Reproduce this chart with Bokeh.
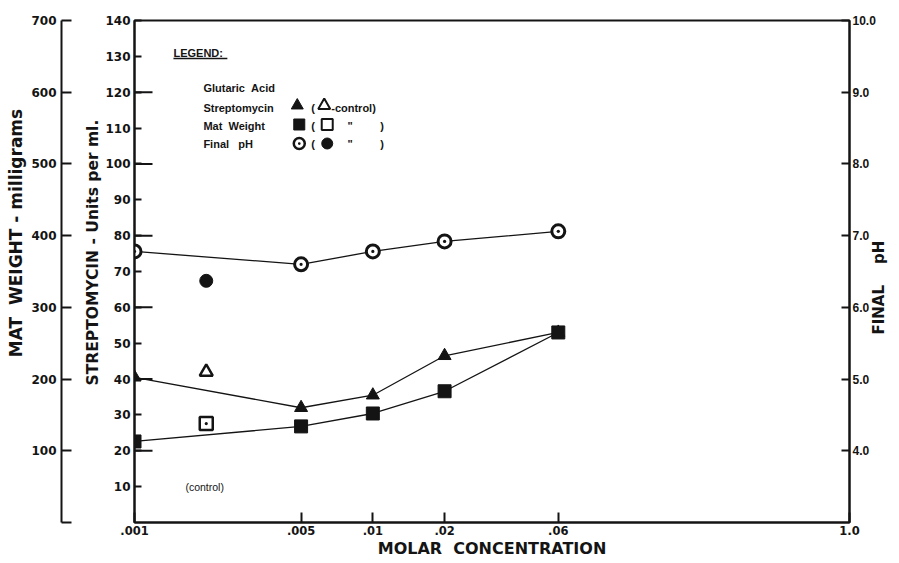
import math
from bokeh.plotting import figure
from bokeh.models import LinearAxis, Range1d, FixedTicker
from bokeh.core.properties import value
from bokeh.embed import file_html
from bokeh.resources import INLINE

# ---------------- data ----------------
concentration = [0.001, 0.005, 0.01, 0.02, 0.06]          # molar
streptomycin = [40.5, 32.0, 35.5, 46.5, 53.0]             # units per ml
mat_weight = [113, 134, 152, 183, 265]                    # milligrams
final_ph = [6.78, 6.60, 6.78, 6.92, 7.06]

control_concentration = [0.002]
streptomycin_control = [42.0]
mat_weight_control = [138]
final_ph_control = [6.37]

x_ticks = [0.001, 0.005, 0.01, 0.02, 0.06, 1.0]
x_tick_labels = [".001", ".005", ".01", ".02", ".06", "1.0"]
strep_ticks = [10, 20, 30, 40, 50, 60, 70, 80, 90, 100, 110, 120, 130, 140]
strep_long_ticks = [20, 40, 60, 80, 100, 120]
mat_ticks = [0, 100, 200, 300, 400, 500, 600, 700]
ph_ticks = [4, 5, 6, 7, 8, 9, 10]
ph_tick_labels = ["4.0", "5.0", "6.0", "7.0", "8.0", "9.0", "10.0"]

# ---------------- styling ----------------
INK = "#141414"
NUM_FONT = "DejaVu Sans"
NUM_FONT_R = "Liberation Sans"
TITLE_FONT = "DejaVu Sans"
LEG_FONT = "Liberation Sans"
NB = "\u00a0"

p = figure(width=899, height=563, x_axis_type="log",
           x_range=Range1d(0.001, 1.0), y_range=Range1d(0, 140),
           output_backend="svg", toolbar_location=None,
           min_border_left=134, min_border_right=49,
           min_border_top=20, min_border_bottom=41,
           background_fill_color="white", border_fill_color="white")
p.extra_y_ranges = {"mat": Range1d(0, 700), "ph": Range1d(3, 10)}
p.xgrid.visible = False
p.ygrid.visible = False
p.outline_line_color = INK
p.outline_line_width = 2


def style(ax, font, size):
    ax.axis_line_color = INK
    ax.axis_line_width = 2
    ax.major_tick_line_color = INK
    ax.major_tick_line_width = 2
    ax.minor_tick_line_color = None
    ax.major_tick_out = 0
    ax.major_label_text_font = font
    ax.major_label_text_font_size = size
    ax.major_label_text_font_style = "bold"
    ax.major_label_text_color = INK
    ax.axis_label_text_font = TITLE_FONT
    ax.axis_label_text_font_style = "bold"
    ax.axis_label_text_color = INK


# x axis (log)
xa = p.xaxis[0]
style(xa, NUM_FONT, "11.5px")
xa.ticker = FixedTicker(ticks=x_ticks)
xa.major_label_overrides = dict(zip(x_ticks, x_tick_labels))
xa.major_tick_in = 10
xa.major_label_standoff = 3
xa.axis_label = "MOLAR" + NB * 2 + "CONCENTRATION"
xa.axis_label_text_font_size = "16px"
xa.axis_label_standoff = 1

# streptomycin axis (left, at frame)
ya = p.yaxis[0]
style(ya, NUM_FONT, "12px")
ya.ticker = FixedTicker(ticks=strep_ticks)
ya.major_tick_in = 7
ya.major_label_standoff = 4
ya.axis_label = NB * 7 + "STREPTOMYCIN - Units per ml."
ya.axis_label_text_font_size = "15.5px"
ya.axis_label_standoff = 0

# invisible spacer between the two left axes
spacer = LinearAxis(ticker=FixedTicker(ticks=[]), axis_line_color=None,
                    major_tick_line_color=None, minor_tick_line_color=None,
                    major_tick_in=0, major_tick_out=0, major_label_standoff=0,
                    axis_label=NB, axis_label_text_font_size="10px",
                    axis_label_text_color="white", axis_label_standoff=6)
p.add_layout(spacer, "left")

# mat weight axis (far left)
ma = LinearAxis(y_range_name="mat")
style(ma, NUM_FONT, "12px")
ma.ticker = FixedTicker(ticks=mat_ticks)
ma.major_label_overrides = {0: ""}
ma.major_tick_in = 10
ma.major_label_standoff = 5
ma.axis_label = NB * 13 + "MAT" + NB * 2 + "WEIGHT - milligrams"
ma.axis_label_text_font_size = "17px"
ma.axis_label_standoff = 2
p.add_layout(ma, "left")

# pH axis (right), title reading upward
pa = LinearAxis(y_range_name="ph")
style(pa, NUM_FONT_R, "12px")
pa.ticker = FixedTicker(ticks=ph_ticks)
pa.major_label_overrides = dict(zip(ph_ticks, ph_tick_labels))
pa.major_tick_in = 8
pa.major_label_standoff = 3
pa.axis_label_text_font_size = "15px"
pa.axis_label_standoff = 0
try:
    pa.axis_label_orientation = math.pi / 2
except Exception:
    pass
align_ok = False
try:
    pa.axis_label_align = "start"
    align_ok = True
except Exception:
    pass
pa.axis_label = (NB * 36 if align_ok else "") + "FINAL" + NB * 4 + "pH"
p.add_layout(pa, "right")

# long ticks on the streptomycin axis
p.ray(x=[x_ticks[0]] * len(strep_long_ticks), y=strep_long_ticks, length=18,
      length_units="screen", angle=0, line_color=INK, line_width=2)

# ---------------- series ----------------
p.line(concentration, streptomycin, line_color=INK, line_width=1.3)
p.scatter(concentration, streptomycin, marker="triangle", size=13,
          fill_color=INK, line_color=INK)

p.line(concentration, mat_weight, y_range_name="mat", line_color=INK, line_width=1.3)
p.scatter(concentration, mat_weight, y_range_name="mat", marker="square", size=13,
          fill_color=INK, line_color=INK)

p.line(concentration, final_ph, y_range_name="ph", line_color=INK, line_width=1.3)
p.scatter(concentration, final_ph, y_range_name="ph", marker="circle_dot", size=13,
          fill_color="white", line_color=INK, line_width=3)

# controls
p.scatter(control_concentration, streptomycin_control, marker="triangle", size=13,
          fill_color="white", line_color=INK, line_width=2.5)
p.scatter(control_concentration, mat_weight_control, y_range_name="mat",
          marker="square_dot", size=13, fill_color="white", line_color=INK, line_width=2.5)
p.scatter(control_concentration, final_ph_control, y_range_name="ph",
          marker="circle", size=13, fill_color=INK, line_color=INK)

# ---------------- legend (placed by reference pixel position) ----------------
REF_L, REF_R, REF_T, REF_B = 134, 850, 20, 522


def at_x(px):
    return 10 ** (-3 + 3 * (px - REF_L) / (REF_R - REF_L))


def at_y(py):
    return 140 * (REF_B - py) / (REF_B - REF_T)


def txt(px, py, s, size="11px", style_="bold", align="left"):
    p.text(x=[at_x(px)], y=[at_y(py)], text=[s], text_font=value(LEG_FONT),
           text_font_size=size, text_font_style=style_, text_color=INK,
           text_baseline="middle", text_align=align)


txt(173, 52, "LEGEND:", size="11px")
p.segment(x0=[at_x(173)], y0=[at_y(58)], x1=[at_x(227)], y1=[at_y(58)],
          line_color=INK, line_width=1.5)
txt(203, 87, "Glutaric" + NB * 2 + "Acid")
txt(203, 107, "Streptomycin")
txt(203, 125, "Mat" + NB * 2 + "Weight")
txt(203, 143, "Final" + NB * 3 + "pH")

p.scatter([at_x(297)], [at_y(105)], marker="triangle", size=12, fill_color=INK, line_color=INK)
txt(311, 107, "(")
p.scatter([at_x(324)], [at_y(105)], marker="triangle", size=12, fill_color="white",
          line_color=INK, line_width=2)
txt(331, 107, "-control)")

p.scatter([at_x(299)], [at_y(124)], marker="square", size=11, fill_color=INK, line_color=INK)
txt(311, 125, "(")
p.scatter([at_x(327)], [at_y(124)], marker="square", size=11, fill_color="white",
          line_color=INK, line_width=2)
txt(350, 125, "\"", align="center")
txt(382, 125, ")", align="center")

p.scatter([at_x(299)], [at_y(143)], marker="circle_dot", size=11, fill_color="white",
          line_color=INK, line_width=2.5)
txt(311, 143, "(")
p.scatter([at_x(327)], [at_y(143)], marker="circle", size=11, fill_color=INK, line_color=INK)
txt(350, 143, "\"", align="center")
txt(382, 143, ")", align="center")

txt(185, 486, "(control)", size="10.5px", style_="normal")

open("out.html", "w").write(file_html(p, INLINE))
